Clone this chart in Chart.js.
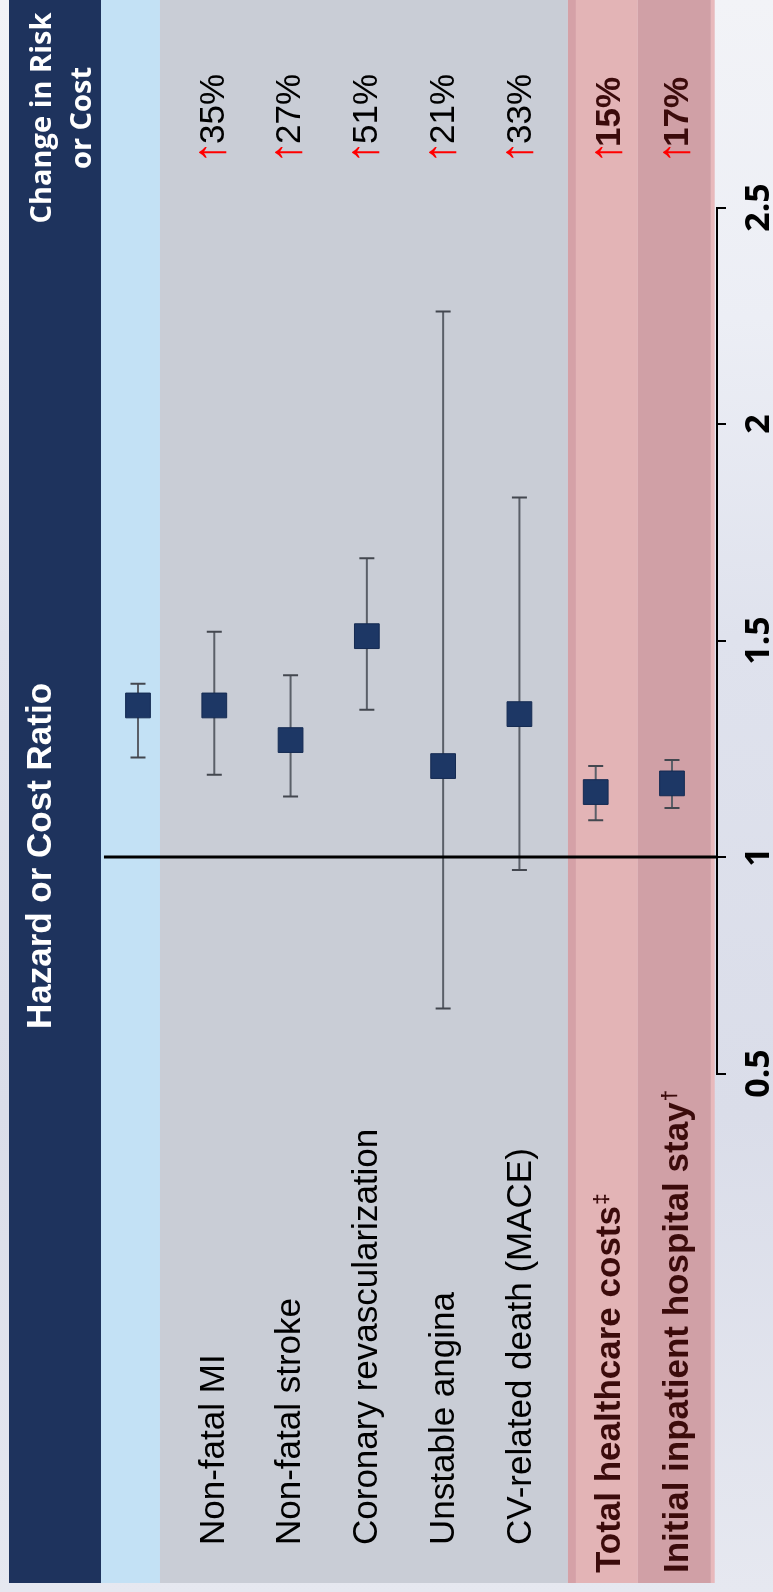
<!DOCTYPE html>
<html><head><meta charset="utf-8">
<script src="https://cdn.jsdelivr.net/npm/chart.js@4.4.1/dist/chart.umd.min.js"></script>
<style>html,body{margin:0;padding:0;background:#eaecf2;overflow:hidden}canvas{display:block}</style>
</head><body>
<canvas id="c" width="773" height="1592"></canvas>
<script>
// ---- data ----
const categories = ["", "Non-fatal MI", "Non-fatal stroke", "Coronary revascularization", "Unstable angina", "CV-related death (MACE)", "Total healthcare costs", "Initial inpatient hospital stay"];
const labelMarks = ["", "", "", "", "", "", "\u2021", "\u2020"];
const ratio  = [1.35, 1.35, 1.27, 1.51, 1.21, 1.33, 1.15, 1.17];
const ciLow  = [1.23, 1.19, 1.14, 1.34, 0.65, 0.97, 1.085, 1.113];
const ciHigh = [1.40, 1.52, 1.42, 1.69, 2.26, 1.83, 1.21, 1.224];
const changeText = ["", "35%", "27%", "51%", "21%", "33%", "15%", "17%"];
const tickValues = [0.5, 1, 1.5, 2, 2.5];
const emphasized = [false, false, false, false, false, false, true, true];
const titleText = "Hazard or Cost Ratio";
const changeTitle = ["Change in Risk", "or Cost"];

// ---- layout / style ----
const X_MIN = -1.691, X_MAX = 7.59;
const bands = [
  {from:-1.691, to:-0.485, color:'#1e335d'},
  {from:-0.485, to:0.288,  color:'#c3e1f5'},
  {from:0.288,  to:5.636,  color:'#c9cdd6'},
  {from:5.636,  to:5.741,  color:'#d5a1a7'},
  {from:5.741,  to:6.553,  color:'#e3b4b6'},
  {from:6.553,  to:7.51,   color:'#d0a0a6'},
  {from:7.51,   to:7.56,   color:'#e8b9bc'}
];
const BAND_BOTTOM = 1583;
const REF_FROM = -0.446;
const textShift = [0, -3, -3, -2, -2, -1, 12, 4];

function rText(ctx, str, baseX, y, font, color, align) {
  ctx.save();
  ctx.translate(baseX, y);
  ctx.rotate(-Math.PI / 2);
  ctx.font = font; ctx.fillStyle = color;
  ctx.textAlign = align || 'left'; ctx.textBaseline = 'alphabetic';
  ctx.fillText(str, 0, 0);
  const w = ctx.measureText(str).width;
  ctx.restore();
  return w;
}

const forestPlugin = {
  id: 'forest',
  beforeDraw(chart) {
    const ctx = chart.ctx, xs = chart.scales.x, W = chart.width, H = chart.height;
    const g = ctx.createLinearGradient(0, 0, 0, H);
    g.addColorStop(0, '#f2f3f7'); g.addColorStop(0.2, '#eceef5');
    g.addColorStop(0.4, '#dfe2ed'); g.addColorStop(0.7, '#dadde9'); g.addColorStop(1, '#e6e8f0');
    ctx.save();
    ctx.fillStyle = g; ctx.fillRect(0, 0, W, H);
    bands.forEach(b => {
      const x0 = xs.getPixelForValue(b.from), x1 = xs.getPixelForValue(b.to);
      ctx.fillStyle = b.color; ctx.fillRect(x0, 0, x1 - x0, BAND_BOTTOM);
    });
    ctx.restore();
  },
  beforeDatasetsDraw(chart) {
    const ctx = chart.ctx, xs = chart.scales.x, ys = chart.scales.y;
    ctx.save();
    ratio.forEach((v, i) => {
      const x = xs.getPixelForValue(i);
      const yl = ys.getPixelForValue(ciLow[i]), yh = ys.getPixelForValue(ciHigh[i]);
      ctx.strokeStyle = '#5a5f68'; ctx.lineWidth = 2;
      ctx.beginPath(); ctx.moveTo(x, yl); ctx.lineTo(x, yh); ctx.stroke();
      ctx.strokeStyle = '#43474f';
      ctx.beginPath(); ctx.moveTo(x - 7.5, yl); ctx.lineTo(x + 7.5, yl);
      ctx.moveTo(x - 7.5, yh); ctx.lineTo(x + 7.5, yh); ctx.stroke();
    });
    const y1 = ys.getPixelForValue(1);
    ctx.strokeStyle = '#000'; ctx.lineWidth = 3;
    ctx.beginPath(); ctx.moveTo(xs.getPixelForValue(REF_FROM), y1); ctx.lineTo(chart.chartArea.right, y1); ctx.stroke();
    ctx.restore();
  },
  afterDraw(chart) {
    const ctx = chart.ctx, xs = chart.scales.x, ys = chart.scales.y;
    rText(ctx, titleText, 51, 856, 'bold 35px "Liberation Sans"', '#ffffff', 'center');
    rText(ctx, changeTitle[0], 51, 118, 'bold 29px "Open Sans"', '#ffffff', 'center');
    rText(ctx, changeTitle[1], 91, 118, 'bold 29px "Open Sans"', '#ffffff', 'center');
    categories.forEach((lab, i) => {
      const cx = xs.getPixelForValue(i) + textShift[i];
      const baseX = cx + 12.5;
      const bold = emphasized[i];
      const font = (bold ? 'bold ' : '') + '35px "Liberation Sans"';
      const col = bold ? '#3b0b0b' : '#000000';
      if (lab) {
        ctx.save();
        ctx.translate(baseX, bold ? 1573 : 1545);
        ctx.rotate(-Math.PI / 2);
        ctx.font = font; ctx.fillStyle = col; ctx.textBaseline = 'alphabetic'; ctx.textAlign = 'left';
        ctx.fillText(lab, 0, 0);
        const w = ctx.measureText(lab).width;
        if (labelMarks[i]) {
          ctx.font = 'bold 21px "Liberation Sans"';
          ctx.fillText(labelMarks[i], w + 1, -12);
        }
        ctx.restore();
      }
      if (changeText[i]) {
        rText(ctx, '\u2191', baseX + 1, 152.5, 'bold 46px "Liberation Sans"', '#ff0000', 'center');
        rText(ctx, changeText[i], baseX, bold ? 147 : 144, font, col, 'left');
      }
    });
    ys.ticks.forEach(t => {
      const y = ys.getPixelForValue(t.value);
      rText(ctx, String(t.value), 769, y, 'bold 34px "Open Sans"', '#000000', 'center');
    });
  }
};

new Chart(document.getElementById('c'), {
  type: 'scatter',
  data: {
    datasets: [{
      data: ratio.map((v, i) => ({x: i, y: v})),
      pointStyle: 'rect',
      pointRadius: 17.5,
      pointHoverRadius: 17.5,
      backgroundColor: '#1d3765',
      borderColor: '#142a52',
      borderWidth: 1
    }]
  },
  options: {
    responsive: false,
    devicePixelRatio: 1,
    animation: false,
    events: [],
    layout: {autoPadding: false, padding: {left: 9, top: 207.5, bottom: 518.5, right: 0}},
    plugins: {legend: {display: false}, tooltip: {enabled: false}},
    scales: {
      x: {type: 'linear', display: false, min: X_MIN, max: X_MAX},
      y: {
        type: 'linear', position: 'right', min: 0.5, max: 2.5,
        afterBuildTicks(scale) { scale.ticks = tickValues.map(v => ({value: v})); },
        afterFit(scale) { scale.width = 56; },
        ticks: {display: false},
        grid: {display: true, drawOnChartArea: false, drawTicks: true, tickLength: 9, lineWidth: 2, color: '#000'},
        border: {display: true, color: '#000', width: 2}
      }
    }
  },
  plugins: [forestPlugin]
});
</script>
</body></html>
